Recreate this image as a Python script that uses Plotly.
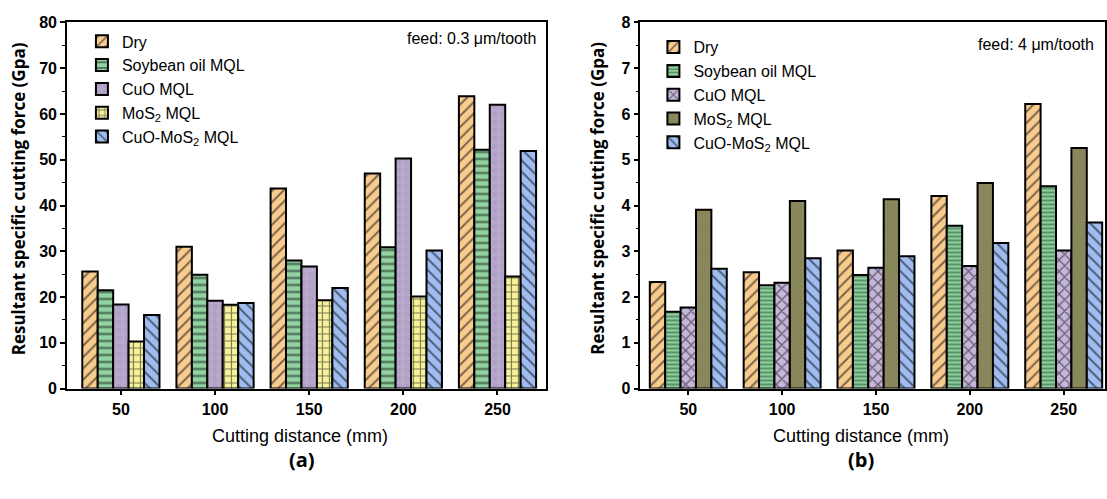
import plotly.graph_objects as go

# ---------------- data ----------------
distances = ["50", "100", "150", "200", "250"]
series_names = ["Dry", "Soybean oil MQL", "CuO MQL", "MoS<sub>2</sub> MQL", "CuO-MoS<sub>2</sub> MQL"]

# panel (a): feed 0.3 um/tooth
a_dry = [25.6, 31.0, 43.7, 47.0, 63.9]
a_soy = [21.5, 24.9, 28.0, 30.9, 52.2]
a_cuo = [18.4, 19.2, 26.7, 50.3, 62.0]
a_mos2 = [10.3, 18.3, 19.3, 20.1, 24.5]
a_cuomos2 = [16.1, 18.7, 22.0, 30.2, 51.9]

# panel (b): feed 4 um/tooth
b_dry = [2.33, 2.54, 3.02, 4.21, 6.22]
b_soy = [1.68, 2.26, 2.48, 3.56, 4.42]
b_cuo = [1.77, 2.31, 2.64, 2.68, 3.02]
b_mos2 = [3.91, 4.10, 4.14, 4.49, 5.26]
b_cuomos2 = [2.62, 2.85, 2.89, 3.18, 3.63]

# ---------------- styles ----------------
W, H = 1107, 499
FONT = "Liberation Sans, Arial, sans-serif"

style_a = [
    dict(bgcolor="#F8CB8F", shape="/", fgcolor="black", size=8, solidity=0.25),
    dict(bgcolor="#93D3A2", shape="-", fgcolor="black", size=7, solidity=0.3),
    dict(bgcolor="#B7A8CC", shape=".", fgcolor="#A596BD", size=8, solidity=0.35),
    dict(bgcolor="#F6F29C", shape="+", fgcolor="black", size=7, solidity=0.3),
    dict(bgcolor="#9FBDF0", shape="\\", fgcolor="black", size=8, solidity=0.25),
]
style_b = [
    dict(bgcolor="#F8CB8F", shape="/", fgcolor="black", size=8, solidity=0.25),
    dict(bgcolor="#8FD19E", shape="-", fgcolor="#10301a", size=4, solidity=0.4),
    dict(bgcolor="#C6B7DA", shape="x", fgcolor="black", size=8, solidity=0.3),
    dict(bgcolor="#8E8C60", shape=".", fgcolor="#6a6842", size=3, solidity=0.35),
    dict(bgcolor="#9FBDF0", shape="\\", fgcolor="black", size=8, solidity=0.25),
]

fig = go.Figure()

a_vals = [a_dry, a_soy, a_cuo, a_mos2, a_cuomos2]
b_vals = [b_dry, b_soy, b_cuo, b_mos2, b_cuomos2]

for name, vals, st in zip(series_names, a_vals, style_a):
    fig.add_trace(go.Bar(
        x=distances, y=vals, name=name, xaxis="x", yaxis="y", legend="legend",
        marker=dict(color=st["bgcolor"], line=dict(color="black", width=2),
                    pattern=dict(shape=st["shape"], fgcolor=st["fgcolor"], bgcolor=st["bgcolor"],
                                 size=st["size"], solidity=st["solidity"], fillmode="overlay")),
    ))
for name, vals, st in zip(series_names, b_vals, style_b):
    fig.add_trace(go.Bar(
        x=distances, y=vals, name=name, xaxis="x2", yaxis="y2", legend="legend2",
        marker=dict(color=st["bgcolor"], line=dict(color="black", width=2),
                    pattern=dict(shape=st["shape"], fgcolor=st["fgcolor"], bgcolor=st["bgcolor"],
                                 size=st["size"], solidity=st["solidity"], fillmode="overlay")),
    ))

ydom = [(H - 394) / H, (H - 15) / H]
xa_dom = [67 / W, 546 / W]
xb_dom = [641 / W, 1106 / W]

tickfont = dict(family=FONT, size=16, color="black", weight="bold")

def xaxis(dom, rng, anchor):
    return dict(domain=dom, anchor=anchor, type="category", range=rng,
                showline=True, linecolor="black", linewidth=1.5, mirror=True,
                ticks="outside", ticklen=5, tickwidth=1.5, tickcolor="black",
                tickfont=tickfont, showgrid=False, zeroline=False)

def yaxis(dom, rng, dtick, anchor):
    return dict(domain=dom, anchor=anchor, range=rng, dtick=dtick, tick0=0,
                showline=True, linecolor="black", linewidth=1.5, mirror=True,
                ticks="outside", ticklen=5, tickwidth=1.5, tickcolor="black",
                minor=dict(ticks="outside", ticklen=3, dtick=dtick / 2, tickcolor="black", tickwidth=1),
                tickfont=tickfont, showgrid=False, zeroline=False)

legend_common = dict(font=dict(family=FONT, size=16, color="black"),
                     bgcolor="rgba(0,0,0,0)", borderwidth=0, xanchor="left", yanchor="top",
                     traceorder="normal", itemwidth=30, tracegroupgap=0)

fig.update_layout(
    width=W, height=H,
    margin=dict(l=0, r=0, t=0, b=0),
    paper_bgcolor="white", plot_bgcolor="white",
    barmode="group", bargap=0.18, bargroupgap=0,
    font=dict(family=FONT, color="black"),
    xaxis=xaxis(xa_dom, [-0.573, 4.51], "y"),
    yaxis=yaxis(ydom, [0, 80], 10, "x"),
    xaxis2=xaxis(xb_dom, [-0.51, 4.44], "y2"),
    yaxis2=yaxis(ydom, [0, 8], 1, "x2"),
    legend=dict(x=82 / W, y=(H - 17) / H, **legend_common),
    legend2=dict(x=654 / W, y=(H - 23) / H, **legend_common),
)

ann = []
ytitle = "Resultant specific cutting force (Gpa)"
for xc in (18, 598):
    ann.append(dict(text=ytitle, x=xc / W, y=(H - 197) / H, xref="paper", yref="paper",
                    textangle=-90, showarrow=False, xanchor="center", yanchor="middle",
                    font=dict(family="Open Sans, sans-serif", size=17, color="black", weight="bold")))
for xc in (300, 862):
    ann.append(dict(text="Cutting distance (mm)", x=xc / W, y=(H - 443) / H, xref="paper", yref="paper",
                    showarrow=False, xanchor="center", yanchor="middle",
                    font=dict(family=FONT, size=18, color="black")))
for xc, lab in ((302, "(a)"), (862, "(b)")):
    ann.append(dict(text=lab, x=xc / W, y=(H - 467) / H, xref="paper", yref="paper",
                    showarrow=False, xanchor="center", yanchor="middle",
                    font=dict(family="Open Sans, sans-serif", size=20, color="black", weight="bold")))
ann.append(dict(text="feed: 0.3 \u03bcm/tooth", x=538 / W, y=(H - 32) / H, xref="paper", yref="paper",
                showarrow=False, xanchor="right", yanchor="middle",
                font=dict(family=FONT, size=16, color="black")))
ann.append(dict(text="feed: 4 \u03bcm/tooth", x=1097 / W, y=(H - 38) / H, xref="paper", yref="paper",
                showarrow=False, xanchor="right", yanchor="middle",
                font=dict(family=FONT, size=16, color="black")))
fig.update_layout(annotations=ann)

fig.write_html("out.html")
